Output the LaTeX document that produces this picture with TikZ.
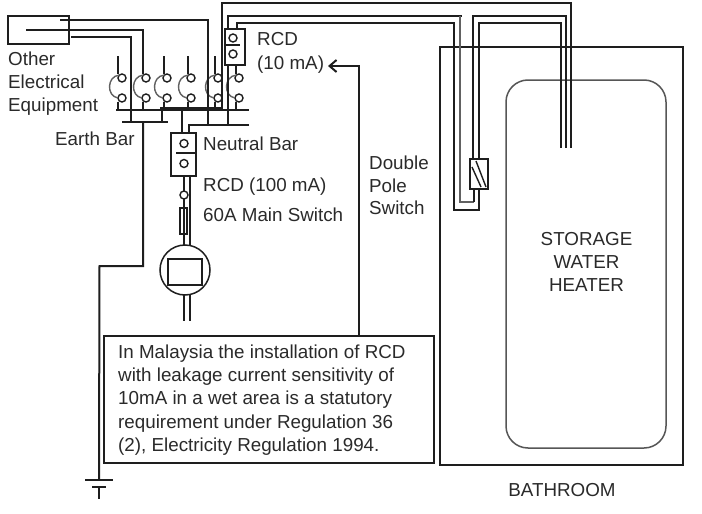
\documentclass[tikz,border=0pt]{standalone}
\usepackage{fontspec}
\setmainfont{Liberation Sans}
\usetikzlibrary{arrows.meta,calc}
\definecolor{ink}{HTML}{1E1E1E}
\definecolor{txt}{HTML}{2A2A2A}
\tikzset{
 wire/.style={draw=ink,line width=2pt},
 thinwire/.style={draw=ink!70,line width=1.4pt},
 bus/.style={draw=ink,line width=3.4pt},
 lab/.style={text=txt,font=\fontsize{18.8}{23.2}\selectfont,inner sep=0pt,align=left},
 term/.style={circle,draw=ink,line width=1.4pt,inner sep=0pt,outer sep=0pt,minimum size=8pt},
 boxn/.style={rectangle,draw=ink,line width=2pt,inner sep=0pt,outer sep=0pt,anchor=north west},
 bigbox/.style={rectangle,draw=ink,line width=2.2pt,inner sep=0pt,outer sep=0pt,anchor=north west},
}
\newcommand{\breaker}[4]{% name, top-line x, circle x, top y of line
 \node[term] (#1a) at (#3,78) {};
 \node[term] (#1b) at (#3,98) {};
 \draw[thinwire] (#1a.north west) .. controls (#3-15,76) and (#3-16,96) .. (#1b.west);
 \coordinate (#1t) at (#2,#4);
 \coordinate (#1u) at (#2,109);
 \draw[wire] (#1t) -- (#2,74);
 \draw[wire] (#2,102) -- (#1u);
}
\begin{document}
\begin{tikzpicture}[x=1pt,y=-1pt]
\useasboundingbox (0,0) rectangle (702,514);
\fill[white] (0,0) rectangle (702,514);
% boxes
\node[bigbox,minimum width=61pt,minimum height=28pt] (other) at (8,16) {};
\node[bigbox,minimum width=243pt,minimum height=418pt] (bath) at (440,47) {};
\node[bigbox,minimum width=330pt,minimum height=127pt] (note) at (104,336) {};
\node[draw=ink!75,line width=1.5pt,outer sep=0pt,rounded corners=22pt,minimum width=160pt,minimum height=368pt,inner sep=0pt,anchor=north west] (heater) at (506,80) {};
% breakers
\breaker{b1}{118}{122}{56}
\breaker{b2}{143}{146}{72}
\breaker{b3}{164}{167}{56}
\breaker{b4}{188}{191}{56}
\breaker{b5}{215}{218}{56}
\breaker{b6}{236}{239}{65}
% bars
\coordinate (barL) at (116,109.5);
\coordinate (barR) at (249,109.5);
\coordinate (thickL) at (160,108.5);
\coordinate (thickR) at (222,108.5);
\coordinate (nbarL) at (189,125);
\coordinate (nbarR) at (249,125);
\coordinate (ebarL) at (122,122);
\coordinate (ebarR) at (168,122);
\draw[wire] (barL) -- (barR);
\draw[bus] (thickL) -- (thickR);
\draw[wire] (ebarL) -- (ebarR);
\draw[wire] (nbarR) -- (nbarL) -- (189,133);
\draw[wire] (182,109) -- (182,133);
\draw[wire] (162,109) -- (162,122);
% other equipment feeds
\draw[wire] (60,20) -- (208,20) -- (208,125);
\draw[wire] (26,30) -- (143,30) -- (b2t);
\draw[wire] (71,37) -- (131,37) -- (131,122);
% earth
\coordinate (gnd) at (99,480);
\draw[wire] (143,122) -- (143,266) -- (99.5,266) -- (gnd);
\draw[wire] (85,480) -- (113,480);
\draw[wire] (92,487) -- (106,487);
\draw[wire] (99,487) -- (99,499);
% top wires to switch and heater
\draw[wire] (222,109) -- (222,3) -- (571,3) -- (571,148);
\draw[wire] (228,125) -- (228,16) -- (462,16);
\draw[thinwire] (460,16) -- (460,202) -- (473.5,202);
\draw[wire] (473.5,189) -- (473.5,202);
\draw[wire] (473,159) -- (473,16) -- (566,16) -- (566,148);
\draw[wire] (237,29) -- (237,23) -- (454,23) -- (454,210) -- (479,210) -- (479,189);
\draw[wire] (479,159) -- (479,23) -- (561,23) -- (561,148);
% RCD boxes and switch, over the wires
\node[boxn,minimum width=20pt,minimum height=36pt,fill=white] (rcdB) at (225,29) {};
\node[boxn,minimum width=25pt,minimum height=43pt,fill=white] (rcdA) at (171,133) {};
\node[boxn,minimum width=18pt,minimum height=30pt,fill=white] (dps) at (470,159) {};
% switch slashes
\draw[wire,line width=1.4pt] (472,167) -- (481,187);
\draw[wire,line width=1.4pt] (476,161) -- (486,187);
% RCD 10 mA
\node[term] (r1) at (233,38) {};
\node[term] (r2) at (233,54) {};
\draw[wire] (225,45) -- (240,45);
% RCD 100 mA
\node[term] (r3) at (184,143.5) {};
\node[term] (r4) at (184,163.5) {};
\draw[wire] (176,153) -- (196,153);
% main line
\node[term] (sw) at (184,195) {};
\draw[wire] (184,176) -- (sw.north);
\draw[wire] (sw.south) -- (184,246);
\draw[wire] (190,176) -- (190,246);
\node[rectangle,draw=ink,line width=1.5pt,inner sep=0pt,outer sep=0pt,minimum width=7pt,minimum height=26pt] (fuse) at (183.5,221) {};
\node[circle,draw=ink,line width=1.5pt,inner sep=0pt,outer sep=0pt,minimum size=50pt] (meter) at (185,270) {};
\node[rectangle,draw=ink,line width=2pt,inner sep=0pt,outer sep=0pt,minimum width=34pt,minimum height=26pt] (disp) at (185,272) {};
\draw[wire] (184,295) -- (184,321);
\draw[wire] (190,295) -- (190,321);
% arrow
\draw[wire,-{Straight Barb[length=7pt,width=12pt]}] (359,336) -- (359,66) -- (328,66);
% labels
\node[lab,anchor=base west] (t1) at (8,65.8) {Other};
\node[lab,anchor=base west] (t2) at (8,88.8) {Electrical};
\node[lab,anchor=base west] (t3) at (8,111.8) {Equipment};
\node[lab,anchor=base west] (t4) at (55,145.8) {Earth Bar};
\node[lab,anchor=base west] (t5) at (203,150.8) {Neutral Bar};
\node[lab,anchor=base west] (t6) at (203,191.8) {RCD (100 mA)};
\node[lab,anchor=base west] (t7) at (203,221.8) {60A Main Switch};
\node[lab,anchor=base west] (t8) at (257,45.8) {RCD};
\node[lab,anchor=base west] (t9) at (257,69.8) {(10 mA)};
\node[lab,anchor=base west] (t10) at (369,169.8) {Double};
\node[lab,anchor=base west] (t11) at (369,192.8) {Pole};
\node[lab,anchor=base west] (t12) at (369,214.8) {Switch};
\node[lab,anchor=base] (t13) at (586.5,245.8) {STORAGE};
\node[lab,anchor=base] (t14) at (586.5,268.8) {WATER};
\node[lab,anchor=base] (t15) at (586.5,291.8) {HEATER};
\node[lab,anchor=base] (t16) at (562,496.8) {BATHROOM};
\node[lab,anchor=north west] (t17) at (118,344.6) {In Malaysia the installation of RCD\\with leakage current sensitivity of\\10mA in a wet area is a statutory\\requirement under Regulation 36\\(2), Electricity Regulation 1994.};
\end{tikzpicture}
\end{document}
